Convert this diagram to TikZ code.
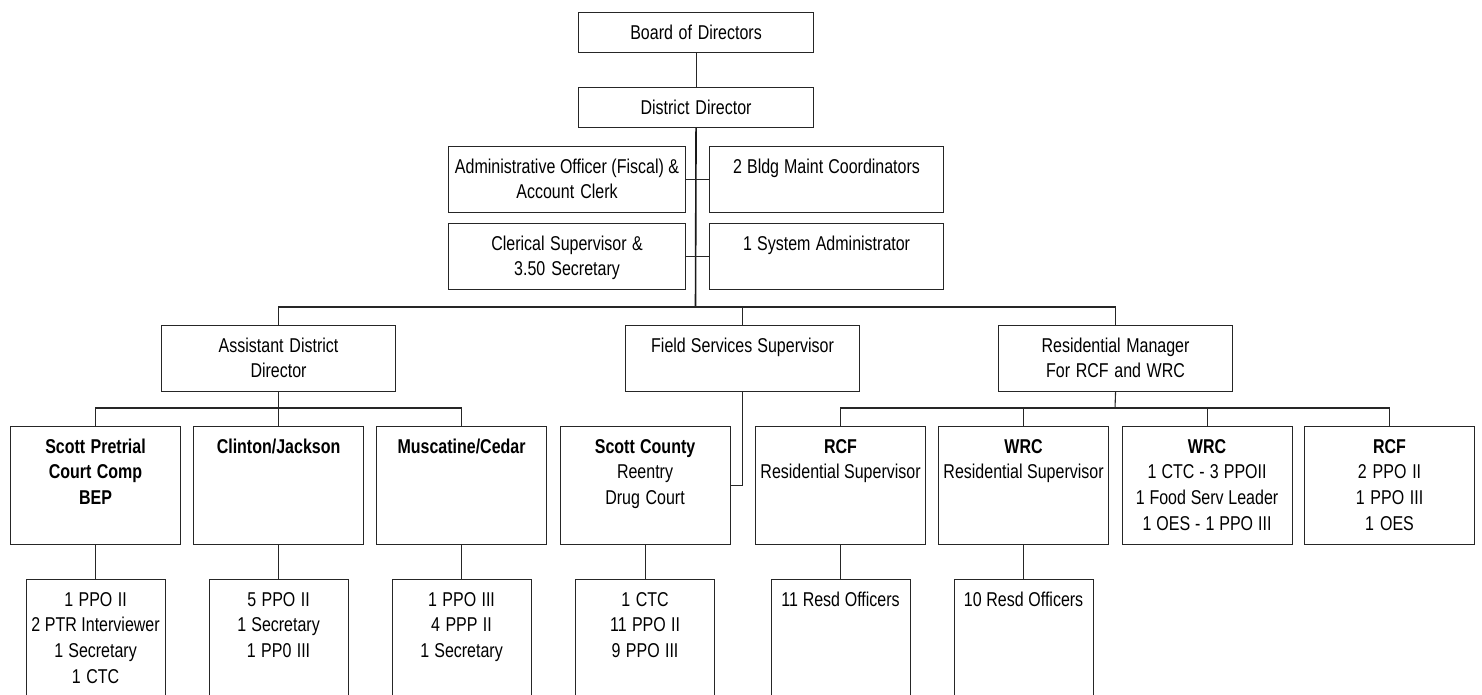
\documentclass[tikz,border=0pt]{standalone}
\usepackage{fontspec}
\setmainfont{Liberation Sans}[FakeStretch=0.8]
\begin{document}
\begin{tikzpicture}[x=1pt,y=-1pt,
  box/.style 2 args={draw=black!85, line width=1.1pt, inner sep=0pt, anchor=north west,
    align=center, text width=#1, minimum width=#1, text height=26.5pt, text depth=#2,
    font=\fontsize{20}{25.7}\selectfont,
    execute at begin node={\spaceskip=4.45pt plus 1pt minus 0.5pt\relax}},
  link/.style={draw=black!85, line width=1.1pt},
  trunk/.style={draw=black!90, line width=1.6pt}]
\path[use as bounding box, clip] (0,0) rectangle (1482,694);
\fill[white] (0,0) rectangle (1482,694);
% top levels
\node[box={235pt}{13.5pt}] (board) at (578,12) {Board of Directors};
\node[box={235pt}{13.5pt}] (dd) at (578,87) {District Director};
\node[box={237pt}{39.5pt}] (admin) at (448,146) {Administrative Officer (Fiscal) \&\\Account Clerk};
\node[box={234pt}{39.5pt}] (bldg) at (709,146) {2 Bldg Maint Coordinators};
\node[box={237pt}{39.5pt}] (cler) at (448,223) {Clerical Supervisor \&\\3.50 Secretary};
\node[box={234pt}{39.5pt}] (sys) at (709,223) {1 System Administrator};
% level 2
\node[box={234pt}{39.5pt}] (asst) at (161,325) {Assistant District\\Director};
\node[box={234pt}{39.5pt}] (field) at (625,325) {Field Services Supervisor};
\node[box={234pt}{39.5pt}] (resm) at (998,325) {Residential Manager\\For RCF and WRC};
% level 3
\node[box={170pt}{91.5pt}] (la) at (10,426) {\textbf{Scott Pretrial}\\\textbf{Court Comp}\\\textbf{BEP}};
\node[box={170pt}{91.5pt}] (lb) at (193,426) {\textbf{Clinton/Jackson}};
\node[box={170pt}{91.5pt}] (lc) at (376,426) {\textbf{Muscatine/Cedar}};
\node[box={170pt}{91.5pt}] (ld) at (559.5,426) {\textbf{Scott County}\\Reentry\\Drug Court};
\node[box={170pt}{91.5pt}] (le) at (755,426) {\textbf{RCF}\\Residential Supervisor};
\node[box={170pt}{91.5pt}] (lf) at (938,426) {\textbf{WRC}\\Residential Supervisor};
\node[box={170pt}{91.5pt}] (lg) at (1121.5,426) {\textbf{WRC}\\1 CTC - 3 PPOII\\1 Food Serv Leader\\1 OES - 1 PPO III};
\node[box={170pt}{91.5pt}] (lh) at (1304,426) {\textbf{RCF}\\2 PPO II\\1 PPO III\\1 OES};
% level 4
\node[box={139pt}{103.5pt}] (ma) at (25.5,579) {1 PPO II\\2 PTR Interviewer\\1 Secretary\\1 CTC};
\node[box={139pt}{103.5pt}] (mb) at (208.5,579) {5 PPO II\\1 Secretary\\1 PP0 III};
\node[box={139pt}{103.5pt}] (mc) at (391.5,579) {1 PPO III\\4 PPP II\\1 Secretary};
\node[box={139pt}{103.5pt}] (md) at (575,579) {1 CTC\\11 PPO II\\9 PPO III};
\node[box={139pt}{103.5pt}] (me) at (770.5,579) {11 Resd Officers};
\node[box={139pt}{103.5pt}] (mf) at (953.5,579) {10 Resd Officers};
% connectors
\coordinate (bus) at (695.5,307);
\coordinate (b2) at (278,408);
\coordinate (b3) at (1115,408);
\draw[link] (board.south) -- (dd.north);
\draw[trunk] (dd.south) -- (bus);
\draw[link] (admin.east) -- (bldg.west);
\draw[link] (cler.east) -- (sys.west);
\draw[link] (asst.north) |- (bus) -| (resm.north);
\draw[link] (field.north) -- (field.north |- bus);
\draw[link] (asst.south) -- (lb.north);
\draw[link] (la.north) |- (b2) -| (lc.north);
\draw[link] (field.south) |- (ld.east);
\draw[link] (resm.south) -- (b3);
\draw[link] (le.north) |- (b3) -| (lh.north);
\draw[link] (lf.north) -- (lf.north |- b3);
\draw[link] (lg.north) -- (lg.north |- b3);
\draw[link] (la.south) -- (ma.north);
\draw[link] (lb.south) -- (mb.north);
\draw[link] (lc.south) -- (mc.north);
\draw[link] (ld.south) -- (md.north);
\draw[link] (le.south) -- (me.north);
\draw[link] (lf.south) -- (mf.north);
\end{tikzpicture}
\end{document}
